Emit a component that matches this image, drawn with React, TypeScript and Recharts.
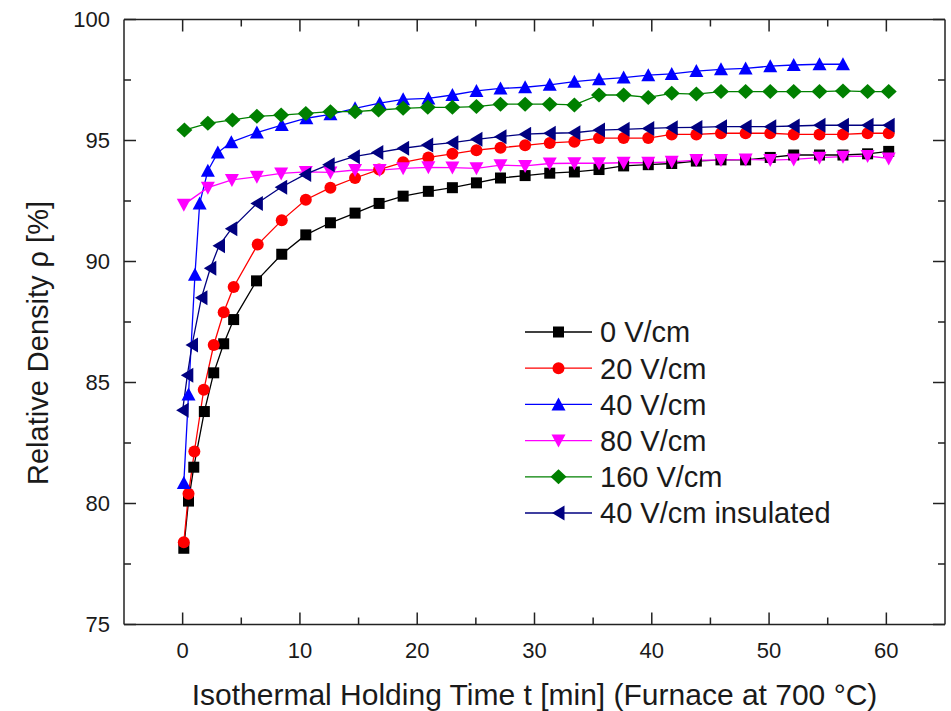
import React from 'react';
import { LineChart, Line, XAxis, YAxis } from 'recharts';

const FONT = '"Liberation Sans", Arial, Helvetica, sans-serif';

// ---- data (time in min, relative density in %) ----
const t0 = [0.1, 0.5, 0.95, 1.85, 2.65, 3.5, 4.35, 6.3, 8.45, 10.5, 12.6, 14.7, 16.75, 18.8, 20.95, 23.0, 25.05, 27.1, 29.2, 31.3, 33.4, 35.5, 37.6, 39.7, 41.7, 43.8, 45.9, 48.0, 50.1, 52.1, 54.3, 56.3, 58.4, 60.2];
const v0 = [78.15, 80.1, 81.5, 83.8, 85.4, 86.6, 87.6, 89.2, 90.3, 91.1, 91.6, 92.0, 92.4, 92.7, 92.9, 93.05, 93.25, 93.45, 93.55, 93.65, 93.7, 93.8, 93.95, 94.0, 94.05, 94.15, 94.2, 94.2, 94.3, 94.4, 94.4, 94.4, 94.45, 94.55];

const t20 = [0.1, 0.5, 1.0, 1.8, 2.65, 3.5, 4.35, 6.4, 8.45, 10.5, 12.6, 14.7, 16.75, 18.8, 20.95, 23.0, 25.05, 27.1, 29.2, 31.3, 33.4, 35.5, 37.6, 39.7, 41.7, 43.8, 45.9, 48.0, 50.1, 52.1, 54.3, 56.3, 58.4, 60.2];
const v20 = [78.4, 80.4, 82.15, 84.7, 86.55, 87.9, 88.95, 90.7, 91.7, 92.55, 93.05, 93.45, 93.8, 94.1, 94.3, 94.45, 94.6, 94.7, 94.8, 94.9, 94.95, 95.1, 95.1, 95.1, 95.25, 95.25, 95.3, 95.3, 95.3, 95.25, 95.25, 95.25, 95.3, 95.3];

const t40 = [0.1, 0.5, 1.05, 1.45, 2.15, 3.0, 4.15, 6.33, 8.45, 10.55, 12.6, 14.7, 16.8, 18.8, 20.95, 23.0, 25.05, 27.1, 29.2, 31.3, 33.4, 35.5, 37.6, 39.7, 41.7, 43.8, 45.9, 48.0, 50.1, 52.1, 54.3, 56.3];
const v40 = [80.85, 84.5, 89.45, 92.4, 93.75, 94.5, 94.93, 95.33, 95.64, 95.92, 96.08, 96.33, 96.54, 96.7, 96.74, 96.88, 97.05, 97.15, 97.2, 97.3, 97.43, 97.53, 97.6, 97.7, 97.75, 97.87, 97.94, 97.98, 98.07, 98.12, 98.15, 98.15];

const t80 = [0.1, 2.15, 4.2, 6.33, 8.4, 10.5, 12.6, 14.7, 16.8, 18.8, 20.95, 23.0, 25.05, 27.1, 29.2, 31.3, 33.4, 35.5, 37.6, 39.7, 41.7, 43.8, 45.9, 48.0, 50.1, 52.1, 54.3, 56.3, 58.4, 60.2];
const v80 = [92.35, 93.05, 93.37, 93.5, 93.64, 93.7, 93.68, 93.78, 93.78, 93.85, 93.89, 93.88, 93.85, 93.98, 93.95, 94.05, 94.06, 94.06, 94.08, 94.08, 94.12, 94.19, 94.19, 94.22, 94.19, 94.22, 94.29, 94.33, 94.36, 94.26];

const t160 = [0.15, 2.15, 4.25, 6.33, 8.4, 10.5, 12.6, 14.7, 16.7, 18.8, 20.9, 23.0, 25.05, 27.1, 29.2, 31.3, 33.4, 35.5, 37.6, 39.7, 41.7, 43.8, 45.9, 48.0, 50.1, 52.1, 54.3, 56.3, 58.4, 60.2];
const v160 = [95.43, 95.71, 95.85, 96.0, 96.05, 96.12, 96.19, 96.19, 96.26, 96.33, 96.37, 96.37, 96.4, 96.5, 96.5, 96.5, 96.47, 96.88, 96.88, 96.78, 96.95, 96.92, 97.02, 97.02, 97.02, 97.02, 97.02, 97.05, 97.02, 97.02];

const tIns = [0.0, 0.4, 0.8, 1.6, 2.36, 3.1, 4.15, 6.33, 8.4, 10.45, 12.45, 14.6, 16.6, 18.8, 20.85, 23.0, 25.05, 27.1, 29.2, 31.3, 33.4, 35.5, 37.6, 39.7, 41.7, 43.8, 45.9, 48.0, 50.1, 52.1, 54.3, 56.3, 58.4, 60.2];
const vIns = [83.85, 85.3, 86.55, 88.5, 89.72, 90.65, 91.35, 92.4, 93.07, 93.6, 94.0, 94.33, 94.5, 94.68, 94.81, 94.91, 95.05, 95.16, 95.26, 95.3, 95.32, 95.43, 95.46, 95.5, 95.53, 95.54, 95.57, 95.57, 95.57, 95.6, 95.63, 95.63, 95.63, 95.63];

const X_TICKS = [0, 5, 10, 15, 20, 25, 30, 35, 40, 45, 50, 55, 60];
const Y_TICKS = [75, 77.5, 80, 82.5, 85, 87.5, 90, 92.5, 95, 97.5, 100];

const X_TITLE = 'Isothermal Holding Time t [min] (Furnace at 700 °C)';
const Y_TITLE = 'Relative Density ρ [%]';

type Shape = 'square' | 'circle' | 'up' | 'down' | 'diamond' | 'left';

const zip = (t: number[], v: number[]) => t.map((x, i) => ({ x, y: v[i] }));

const SERIES: { name: string; color: string; shape: Shape; data: { x: number; y: number }[] }[] = [
  { name: '0 V/cm', color: '#000000', shape: 'square', data: zip(t0, v0) },
  { name: '20 V/cm', color: '#ff0000', shape: 'circle', data: zip(t20, v20) },
  { name: '40 V/cm', color: '#0000ff', shape: 'up', data: zip(t40, v40) },
  { name: '80 V/cm', color: '#ff00ff', shape: 'down', data: zip(t80, v80) },
  { name: '160 V/cm', color: '#008000', shape: 'diamond', data: zip(t160, v160) },
  { name: '40 V/cm insulated', color: '#000080', shape: 'left', data: zip(tIns, vIns) },
];

function Marker({ shape, cx, cy, color }: { shape: Shape; cx: number; cy: number; color: string }) {
  switch (shape) {
    case 'square':
      return <rect x={cx - 5.5} y={cy - 5.5} width={11} height={11} fill={color} />;
    case 'circle':
      return <circle cx={cx} cy={cy} r={6} fill={color} />;
    case 'up':
      return <polygon points={`${cx},${cy - 7} ${cx + 7},${cy + 6} ${cx - 7},${cy + 6}`} fill={color} />;
    case 'down':
      return <polygon points={`${cx - 7},${cy - 6} ${cx + 7},${cy - 6} ${cx},${cy + 7}`} fill={color} />;
    case 'diamond':
      return <polygon points={`${cx},${cy - 7.5} ${cx + 8},${cy} ${cx},${cy + 7.5} ${cx - 8},${cy}`} fill={color} />;
    case 'left':
    default:
      return <polygon points={`${cx - 6.5},${cy} ${cx + 6},${cy - 7.5} ${cx + 6},${cy + 7.5}`} fill={color} />;
  }
}

const AXIS_COLOR = '#222222';
const TICK_COLOR = '#1a1a1a';
const TW = 1.5;

const XBottomTick = (p: any) => {
  const v = p.payload.value;
  const major = v % 10 === 0;
  return (
    <g>
      <path d={`M${p.x},${p.y}L${p.x},${p.y - (major ? 12 : 7)}`} stroke={AXIS_COLOR} strokeWidth={TW} fill="none" />
      {major && (
        <text x={p.x} y={p.y + 33} textAnchor="middle" fontSize={22} fontFamily={FONT} fill={TICK_COLOR}>
          {v}
        </text>
      )}
    </g>
  );
};

const XTopTick = (p: any) => {
  const v = p.payload.value;
  const major = v % 10 === 0;
  return <path d={`M${p.x},${p.y}L${p.x},${p.y + (major ? 12 : 7)}`} stroke={AXIS_COLOR} strokeWidth={TW} fill="none" />;
};

const YLeftTick = (p: any) => {
  const v = p.payload.value;
  const major = v % 5 === 0;
  return (
    <g>
      <path d={`M${p.x},${p.y}L${p.x + (major ? 12 : 7)},${p.y}`} stroke={AXIS_COLOR} strokeWidth={TW} fill="none" />
      {major && (
        <text x={p.x - 14} y={p.y + 7.5} textAnchor="end" fontSize={22} fontFamily={FONT} fill={TICK_COLOR}>
          {v}
        </text>
      )}
    </g>
  );
};

const YRightTick = (p: any) => {
  const v = p.payload.value;
  const major = v % 5 === 0;
  return <path d={`M${p.x},${p.y}L${p.x - (major ? 12 : 7)},${p.y}`} stroke={AXIS_COLOR} strokeWidth={TW} fill="none" />;
};

const XTitle = (p: any) => {
  const vb = p.viewBox || { x: 124, y: 624.5, width: 821, height: 86.5 };
  return (
    <text x={vb.x + vb.width / 2} y={vb.y + 80} textAnchor="middle" fontSize={30} fontFamily={FONT} fill={TICK_COLOR}>
      {X_TITLE}
    </text>
  );
};

const YTitle = (p: any) => {
  const vb = p.viewBox || { x: 0, y: 19.5, width: 124, height: 605 };
  const cx = vb.x + 48;
  const cy = vb.y + vb.height / 2 + 21;
  return (
    <text x={cx} y={cy} transform={`rotate(-90, ${cx}, ${cy})`} textAnchor="middle" fontSize={29} fontFamily={FONT} fill={TICK_COLOR}>
      {Y_TITLE}
    </text>
  );
};

function LegendBox() {
  return (
    <div style={{ position: 'absolute', left: 520, top: 310, width: 330, height: 220 }}>
      <svg width={330} height={220}>
        {SERIES.map((s, i) => {
          const cy = 22 + i * 36.2;
          return (
            <g key={s.name}>
              <line x1={5} y1={cy} x2={72} y2={cy} stroke={s.color} strokeWidth={1.3} />
              <Marker shape={s.shape} cx={38.5} cy={cy} color={s.color} />
              <text x={80} y={cy + 10.3} fontSize={29} fontFamily={FONT} fill={TICK_COLOR}>
                {s.name}
              </text>
            </g>
          );
        })}
      </svg>
    </div>
  );
}

export default function App() {
  return (
    <div style={{ position: 'absolute', left: 0, top: 0, width: 951, height: 711, background: '#ffffff' }}>
      <LineChart width={951} height={711} margin={{ top: 18.5, right: 5, bottom: 0, left: 0 }}>
        <XAxis
          xAxisId="b"
          type="number"
          dataKey="x"
          domain={[-5, 65]}
          ticks={X_TICKS}
          allowDataOverflow
          orientation="bottom"
          height={86.5}
          tickSize={0}
          tickMargin={0}
          tickLine={false}
          axisLine={{ stroke: AXIS_COLOR, strokeWidth: TW }}
          tick={XBottomTick}
          interval={0}
          label={XTitle}
        />
        <XAxis
          xAxisId="t"
          type="number"
          dataKey="x"
          domain={[-5, 65]}
          ticks={X_TICKS}
          allowDataOverflow
          orientation="top"
          height={1}
          tickSize={0}
          tickMargin={0}
          tickLine={false}
          axisLine={{ stroke: AXIS_COLOR, strokeWidth: TW }}
          tick={XTopTick}
          interval={0}
        />
        <YAxis
          yAxisId="l"
          type="number"
          domain={[75, 100]}
          ticks={Y_TICKS}
          allowDataOverflow
          orientation="left"
          width={124}
          tickSize={0}
          tickMargin={0}
          tickLine={false}
          axisLine={{ stroke: AXIS_COLOR, strokeWidth: TW }}
          tick={YLeftTick}
          interval={0}
          label={YTitle}
        />
        <YAxis
          yAxisId="r"
          type="number"
          domain={[75, 100]}
          ticks={Y_TICKS}
          allowDataOverflow
          orientation="right"
          width={1}
          tickSize={0}
          tickMargin={0}
          tickLine={false}
          axisLine={{ stroke: AXIS_COLOR, strokeWidth: TW }}
          tick={YRightTick}
          interval={0}
        />
        <Line
          xAxisId="t"
          yAxisId="r"
          data={SERIES[0].data}
          dataKey="y"
          stroke="none"
          dot={false}
          activeDot={false}
          legendType="none"
          isAnimationActive={false}
        />
        {SERIES.map((s) => (
          <Line
            key={s.name}
            xAxisId="b"
            yAxisId="l"
            data={s.data}
            dataKey="y"
            name={s.name}
            type="linear"
            stroke={s.color}
            strokeWidth={1.3}
            isAnimationActive={false}
            activeDot={false}
            dot={(p: any) => <Marker key={`${s.name}-${p.index}`} shape={s.shape} cx={p.cx} cy={p.cy} color={s.color} />}
          />
        ))}
      </LineChart>
      <LegendBox />
    </div>
  );
}
